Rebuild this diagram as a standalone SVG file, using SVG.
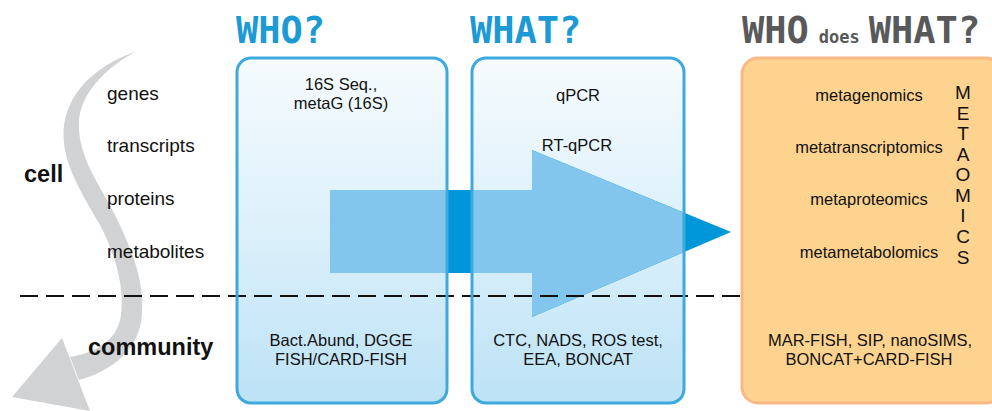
<svg xmlns="http://www.w3.org/2000/svg" width="992" height="411" viewBox="0 0 992 411">
  <defs>
    <linearGradient id="blueFill" x1="0" y1="0" x2="0" y2="1">
      <stop offset="0" stop-color="#f6fbfe"/>
      <stop offset="0.5" stop-color="#dcf0fa"/>
      <stop offset="1" stop-color="#bce2f6"/>
    </linearGradient>
    <clipPath id="boxClip">
      <rect x="237" y="58" width="210" height="345" rx="14"/>
      <rect x="472" y="58" width="212" height="345" rx="14"/>
    </clipPath>
    <g id="bigArrow">
      <path d="M330,190 L532,190 L532,150 L731,232 L532,317 L532,273 L330,273 Z"/>
    </g>
  </defs>
  <style>
    .title { font-family: "DejaVu Sans Mono", "Liberation Mono", monospace; font-weight: bold; }
    .blue { fill: #1b9ad6; }
    .gray { fill: #58595b; }
    .lbl { font-family: "Liberation Sans", Arial, sans-serif; font-size: 19px; fill: #111; }
    .big { font-family: "Liberation Sans", Arial, sans-serif; font-size: 23.5px; font-weight: bold; fill: #111; }
    .bt { font-family: "Liberation Sans", Arial, sans-serif; font-size: 16.5px; fill: #111; text-anchor: middle; }
    .om { font-family: "Liberation Sans", Arial, sans-serif; font-size: 19px; fill: #111; text-anchor: middle; }
    .bluebox { fill: url(#blueFill); }
    .bluestroke { fill: none; stroke: #3ea9dd; stroke-width: 3; }
    .orange { fill: #fdd38f; stroke: #f9b986; stroke-width: 3; }
  </style>

  <!-- titles -->
  <text class="title blue" x="236" y="43" font-size="37">WHO?</text>
  <text class="title blue" x="470" y="43" font-size="37">WHAT?</text>
  <text class="title gray" x="742" y="43" font-size="37">WHO<tspan font-size="17" dx="10">does</tspan><tspan dx="9">WHAT?</tspan></text>

  <!-- box fills -->
  <g id="who-bg">
    <rect class="bluebox" x="237" y="58" width="210" height="345" rx="14"/>
  </g>
  <g id="what-bg">
    <rect class="bluebox" x="472" y="58" width="212" height="345" rx="14"/>
  </g>

  <g id="connectors">
    <!-- big blue arrow: dark outside boxes, light inside -->
    <use href="#bigArrow" fill="#0096da"/>
    <use href="#bigArrow" fill="#82c6ed" clip-path="url(#boxClip)"/>
    <!-- gray curved arrow -->
    <path fill="#d1d2d4" d="M137,51 C105,62 70,85 64,125 C60,160 80,190 100,225 C118,260 124,290 121,315 C118,338 100,352 70,357 L79,380 C110,372 141,350 142,312 C144,280 132,250 115,215 C97,180 77,155 79,120 C82,90 110,65 137,51 Z"/>
    <polygon fill="#d1d2d4" points="62,338 12,397 90,411"/>
    <!-- dashed line -->
    <line x1="20" y1="296" x2="992" y2="296" stroke="#111" stroke-width="2" stroke-dasharray="18,8"/>
  </g>

  <!-- left labels -->
  <g id="levels">
    <text class="lbl" x="107" y="100">genes</text>
    <text class="lbl" x="107" y="152">transcripts</text>
    <text class="lbl" x="107" y="205">proteins</text>
    <text class="lbl" x="107" y="258">metabolites</text>
    <text class="big" x="24" y="182">cell</text>
    <text class="big" x="88" y="355">community</text>
  </g>

  <g id="who">
    <rect class="bluestroke" x="237" y="58" width="210" height="345" rx="14"/>
    <text class="bt" x="341" y="90">16S Seq.,</text>
    <text class="bt" x="341" y="109">metaG (16S)</text>
    <text class="bt" x="341" y="346">Bact.Abund, DGGE</text>
    <text class="bt" x="341" y="365">FISH/CARD-FISH</text>
  </g>

  <g id="what">
    <rect class="bluestroke" x="472" y="58" width="212" height="345" rx="14"/>
    <text class="bt" x="578" y="101">qPCR</text>
    <text class="bt" x="577" y="151">RT-qPCR</text>
    <text class="bt" x="578" y="346">CTC, NADS, ROS test,</text>
    <text class="bt" x="578" y="365">EEA, BONCAT</text>
  </g>

  <g id="who-does-what">
    <rect class="orange" x="742" y="58" width="260" height="345" rx="16"/>
    <text class="bt" x="869" y="101">metagenomics</text>
    <text class="bt" x="869" y="153">metatranscriptomics</text>
    <text class="bt" x="869" y="205">metaproteomics</text>
    <text class="bt" x="869" y="258">metametabolomics</text>
    <text class="om" x="963" y="99">M</text>
    <text class="om" x="963" y="120">E</text>
    <text class="om" x="963" y="140">T</text>
    <text class="om" x="963" y="161">A</text>
    <text class="om" x="963" y="181">O</text>
    <text class="om" x="963" y="202">M</text>
    <text class="om" x="963" y="222">I</text>
    <text class="om" x="963" y="243">C</text>
    <text class="om" x="963" y="264">S</text>
    <text class="bt" x="870" y="346">MAR-FISH, SIP, nanoSIMS,</text>
    <text class="bt" x="869" y="365">BONCAT+CARD-FISH</text>
  </g>
</svg>
